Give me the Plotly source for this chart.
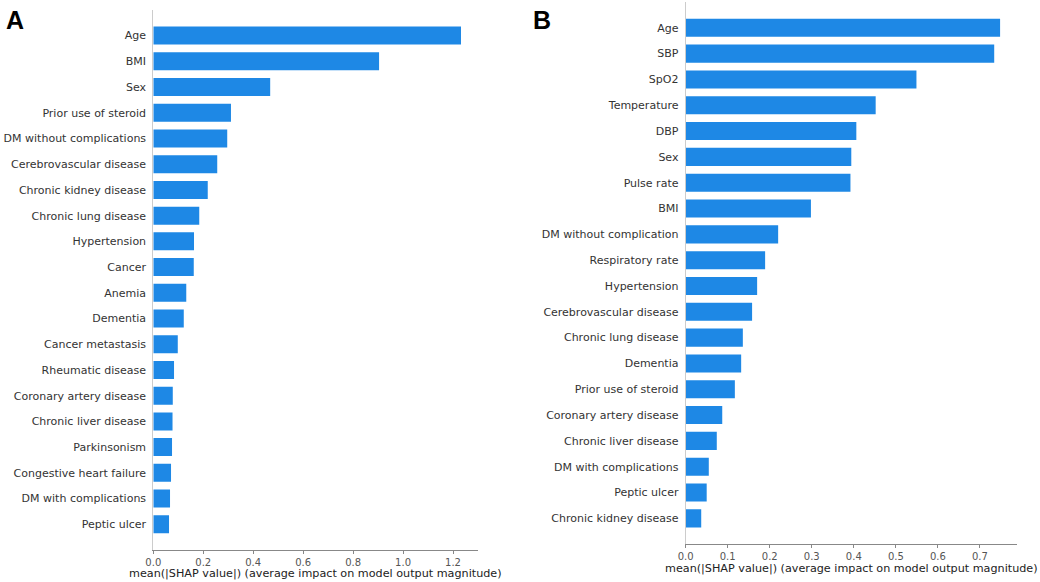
import plotly.graph_objects as go

features_a = ["Age", "BMI", "Sex", "Prior use of steroid", "DM without complications",
              "Cerebrovascular disease", "Chronic kidney disease", "Chronic lung disease",
              "Hypertension", "Cancer", "Anemia", "Dementia", "Cancer metastasis",
              "Rheumatic disease", "Coronary artery disease", "Chronic liver disease",
              "Parkinsonism", "Congestive heart failure", "DM with complications", "Peptic ulcer"]
values_a = [1.232, 0.904, 0.468, 0.311, 0.296, 0.256, 0.218, 0.184, 0.163, 0.162,
            0.132, 0.122, 0.098, 0.083, 0.078, 0.077, 0.075, 0.071, 0.067, 0.063]

features_b = ["Age", "SBP", "SpO2", "Temperature", "DBP", "Sex", "Pulse rate", "BMI",
              "DM without complication", "Respiratory rate", "Hypertension",
              "Cerebrovascular disease", "Chronic lung disease", "Dementia",
              "Prior use of steroid", "Coronary artery disease", "Chronic liver disease",
              "DM with complications", "Peptic ulcer", "Chronic kidney disease"]
values_b = [0.748, 0.734, 0.549, 0.452, 0.406, 0.394, 0.392, 0.298, 0.220, 0.189,
            0.170, 0.158, 0.136, 0.132, 0.117, 0.087, 0.074, 0.055, 0.050, 0.037]

ticks_a = [0.0, 0.2, 0.4, 0.6, 0.8, 1.0, 1.2]
ticks_b = [0.0, 0.1, 0.2, 0.3, 0.4, 0.5, 0.6, 0.7]
xtitle = "mean(|SHAP value|) (average impact on model output magnitude)"

BAR = "#1E88E5"
FONT = "DejaVu Sans"

fig = go.Figure()
fig.add_trace(go.Bar(x=values_a, y=features_a, orientation="h", width=0.7,
                     marker=dict(color=BAR, line=dict(width=0)),
                     xaxis="x", yaxis="y", showlegend=False))
fig.add_trace(go.Bar(x=values_b, y=features_b, orientation="h", width=0.7,
                     marker=dict(color=BAR, line=dict(width=0)),
                     xaxis="x2", yaxis="y2", showlegend=False))

xcommon = dict(showgrid=False, zeroline=False, showline=True, linecolor="#888",
               linewidth=1, ticks="outside", ticklen=3, tickcolor="#888",
               automargin=False,
               tickfont=dict(family=FONT, size=10, color="#555"))
ycommon = dict(type="category", showgrid=False, zeroline=False, showline=True,
               linecolor="#cccccc", linewidth=1, ticks="", ticklabelstandoff=4,
               automargin=False,
               tickfont=dict(family=FONT, size=11, color="#333"), range=[-1, 20])

dom_a = [0.1474, 0.4596]
dom_b = [0.6593, 0.9782]

fig.update_layout(
    width=1040, height=582,
    margin=dict(l=0, r=0, t=0, b=0, autoexpand=False),
    paper_bgcolor="white", plot_bgcolor="white",
    xaxis=dict(domain=dom_a, range=[0, 1.3], tickvals=ticks_a,
               ticktext=[f"{t:.1f}" for t in ticks_a], anchor="y", **xcommon),
    yaxis=dict(domain=[0.055, 0.983], anchor="x",
               categoryorder="array", categoryarray=features_a[::-1], **ycommon),
    xaxis2=dict(domain=dom_b, range=[0, 0.789], tickvals=ticks_b,
                ticktext=[f"{t:.1f}" for t in ticks_b], anchor="y2", **xcommon),
    yaxis2=dict(domain=[0.065, 0.9966], anchor="x2",
                categoryorder="array", categoryarray=features_b[::-1], **ycommon),
    annotations=[
        dict(text="<b>A</b>", x=0.004, y=0.993, xref="paper", yref="paper",
             xanchor="left", yanchor="top", showarrow=False,
             font=dict(family="Liberation Sans", size=25, color="black")),
        dict(text="<b>B</b>", x=0.511, y=0.993, xref="paper", yref="paper",
             xanchor="left", yanchor="top", showarrow=False,
             font=dict(family="Liberation Sans", size=25, color="black")),
        dict(text=xtitle, x=sum(dom_a) / 2, y=1 - 573.5 / 582, xref="paper", yref="paper",
             xanchor="center", yanchor="middle", showarrow=False,
             font=dict(family=FONT, size=11.2, color="#222")),
        dict(text=xtitle, x=sum(dom_b) / 2, y=1 - 568.5 / 582, xref="paper", yref="paper",
             xanchor="center", yanchor="middle", showarrow=False,
             font=dict(family=FONT, size=11.2, color="#222")),
    ],
)

fig.write_html("out.html", config={"displayModeBar": False},
               post_script="document.body.style.margin='0';")
